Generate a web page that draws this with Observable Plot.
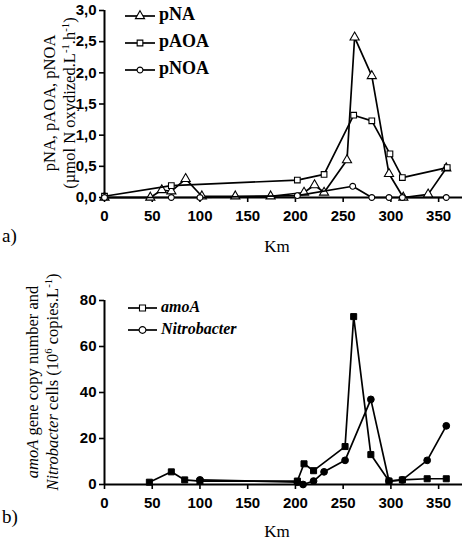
<!DOCTYPE html>
<html>
<head>
<meta charset="utf-8">
<script src="https://cdn.jsdelivr.net/npm/d3@7"></script>
<script src="https://cdn.jsdelivr.net/npm/@observablehq/plot@0.6"></script>
<style>
  html, body { margin: 0; padding: 0; background: #fff; }
  #wrap { position: relative; width: 466px; height: 543px; overflow: hidden; }
  #wrap svg { position: absolute; left: 0; overflow: visible; }
</style>
</head>
<body>
<div id="wrap"></div>
<script>
// ---------- Panel a data ----------
const kmPNA  = [0, 48, 60, 70, 85, 102, 137, 174, 209, 220, 230, 254, 262, 280, 298, 313, 339, 358];
const pNA    = [0, 0, 0.12, 0.1, 0.3, 0.02, 0.02, 0.02, 0.08, 0.2, 0.08, 0.6, 2.57, 1.95, 0.38, 0, 0.05, 0.47];
const kmPAOA = [0, 70, 202, 230, 261, 280, 299, 312, 359];
const pAOA   = [0.02, 0.19, 0.28, 0.37, 1.32, 1.23, 0.70, 0.32, 0.48];
const kmPNOA = [0, 70, 100, 202, 260, 280, 298, 312, 358];
const pNOA   = [0, 0, 0, 0.03, 0.18, 0, 0, 0, 0];
const xTicks = [0, 50, 100, 150, 200, 250, 300, 350];
const yTicksA = [0, 0.5, 1, 1.5, 2, 2.5, 3];
const legendA = ["pNA", "pAOA", "pNOA"];

// ---------- Panel b data ----------
const kmAmoA  = [47, 70, 84, 100, 202, 209, 219, 252, 261, 279, 298, 312, 338, 358];
const amoA    = [1, 5.5, 2, 1.5, 1.5, 9, 6, 16.5, 73, 13, 1.5, 2, 2.5, 2.5];
const kmNitro = [100, 202, 208, 219, 230, 252, 279, 298, 312, 338, 358];
const nitro   = [2, 1, 0, 1.5, 5.5, 10.5, 37, 1.5, 2, 10.5, 25.5];
const yTicksB = [0, 20, 40, 60, 80];
const legendB = ["amoA", "Nitrobacter"];

const zip = (xs, ys) => xs.map((x, i) => ({x, y: ys[i]}));
const wrap = document.getElementById("wrap");
const W = 466;
const sans = "'Liberation Sans', Arial, sans-serif";
const serif = "'Liberation Serif', 'Times New Roman', serif";
const tickFont = {fontFamily: sans, fontSize: "15px", fontWeight: "bold"};

function axes(yTicks, fmt) {
  return [
    Plot.axisX({ticks: xTicks, tickSize: 5, tickPadding: 8, label: null, strokeWidth: 1.6}),
    Plot.axisY({ticks: yTicks, tickSize: 5, tickPadding: 3, label: null, tickFormat: fmt, strokeWidth: 1.6}),
    Plot.ruleX([0], {strokeWidth: 2}),
    Plot.ruleY([0], {strokeWidth: 2})
  ];
}

// ---------- Panel a ----------
const seriesA = [
  {data: zip(kmPNA, pNA), symbol: "triangle", r: 3.4},
  {data: zip(kmPAOA, pAOA), symbol: "square", r: 3.2},
  {data: zip(kmPNOA, pNOA), symbol: "circle", r: 2.9}
];
const plotA = Plot.plot({
  width: W, height: 260,
  marginLeft: 104, marginRight: 4, marginTop: 10, marginBottom: 63,
  style: tickFont,
  x: {domain: [0, 375]},
  y: {domain: [0, 3]},
  marks: [
    ...axes(yTicksA, d => d.toFixed(1).replace(".", ",")),
    ...seriesA.flatMap(s => [
      Plot.line(s.data, {x: "x", y: "y", stroke: "black", strokeWidth: 1.7}),
      Plot.dot(s.data, {x: "x", y: "y", symbol: () => s.symbol, r: s.r, fill: "white", stroke: "black", strokeWidth: 1.1})
    ])
  ]
});
plotA.style.top = "0px";
wrap.appendChild(plotA);

// ---------- Panel b ----------
const seriesB = [
  {data: zip(kmAmoA, amoA), symbol: "square", r: 3.4},
  {data: zip(kmNitro, nitro), symbol: "circle", r: 3.4}
];
const plotB = Plot.plot({
  width: W, height: 283,
  marginLeft: 104, marginRight: 4, marginTop: 40, marginBottom: 59,
  style: tickFont,
  x: {domain: [0, 375]},
  y: {domain: [0, 80]},
  marks: [
    ...axes(yTicksB, d => String(d)),
    ...seriesB.flatMap(s => [
      Plot.line(s.data, {x: "x", y: "y", stroke: "black", strokeWidth: 1.7}),
      Plot.dot(s.data, {x: "x", y: "y", symbol: () => s.symbol, r: s.r, fill: "black", stroke: "black", strokeWidth: 1})
    ])
  ]
});
plotB.style.top = "260px";
wrap.appendChild(plotB);

// ---------- Text additions (titles, labels, legends) ----------
function addTitle(svg, lines, x0, yc, size) {
  const s = d3.select(svg);
  lines.forEach((parts, i) => {
    const t = s.append("text")
      .attr("transform", `translate(${x0[i]},${yc}) rotate(-90)`)
      .attr("text-anchor", "middle")
      .style("font-family", serif).style("font-size", size + "px").style("font-weight", "normal");
    parts.forEach(p => {
      const ts = t.append("tspan").text(p.t);
      if (p.i) ts.style("font-style", "italic");
      if (p.sup) ts.attr("dy", -size * 0.38).style("font-size", (size * 0.65) + "px");
      if (p.after) ts.attr("dy", size * 0.38);
    });
  });
}

function addText(svg, x, y, str, opts = {}) {
  d3.select(svg).append("text")
    .attr("x", x).attr("y", y)
    .attr("text-anchor", opts.anchor || "start")
    .attr("dominant-baseline", "middle")
    .style("font-family", opts.family || serif)
    .style("font-size", (opts.size || 17) + "px")
    .style("font-weight", opts.weight || "normal")
    .style("font-style", opts.style || "normal")
    .text(str);
}

function legend(svg, labels, symbols, rs, x1, x2, y0, dy, fontOpts) {
  const s = d3.select(svg);
  labels.forEach((lab, i) => {
    const y = y0 + i * dy;
    s.append("line").attr("x1", x1).attr("x2", x2).attr("y1", y).attr("y2", y)
      .attr("stroke", "black").attr("stroke-width", 1.7);
    const sym = d3.symbol().type(symbols[i] === "triangle" ? d3.symbolTriangle : symbols[i] === "square" ? d3.symbolSquare : d3.symbolCircle)
      .size(Math.PI * rs[i] * rs[i]);
    s.append("path").attr("d", sym()).attr("transform", `translate(${(x1 + x2) / 2},${y})`)
      .attr("fill", "white").attr("stroke", "black").attr("stroke-width", 1.1);
    addText(svg, x2 + 4, y, lab, fontOpts);
  });
}

// Panel a text
const xA = plotA.scale("x");
addText(plotA, (xA.range[0] + xA.range[1]) / 2 - 6, 248, "Km", {anchor: "middle", size: 17});
addText(plotA, 2, 238, "a)", {size: 19});
addTitle(plotA, [
  [{t: "pNA, pAOA, pNOA"}],
  [{t: "(µmol N oxydized.L"}, {t: "-1", sup: true}, {t: ".h", after: true}, {t: "-1", sup: true}, {t: ")", after: true}]
], [55, 75], 103, 16.5);
legend(plotA, legendA, seriesA.map(s => s.symbol), seriesA.map(s => s.r), 125, 155, 16, 27,
  {size: 18, weight: "bold"});

// Panel b text
addText(plotB, (xA.range[0] + xA.range[1]) / 2 - 6, 273, "Km", {anchor: "middle", size: 17});
addText(plotB, 2, 259, "b)", {size: 19});
addTitle(plotB, [
  [{t: "amoA", i: true}, {t: " gene copy number and"}],
  [{t: "Nitrobacter", i: true}, {t: " cells (10"}, {t: "6", sup: true}, {t: " copies.L", after: true}, {t: "-1", sup: true}, {t: ")", after: true}]
], [38, 58], 122, 16.5);
legend(plotB, legendB, seriesB.map(s => s.symbol), seriesB.map(s => s.r), 128, 157, 48, 22,
  {size: 16, weight: "bold", style: "italic"});
</script>
</body>
</html>
